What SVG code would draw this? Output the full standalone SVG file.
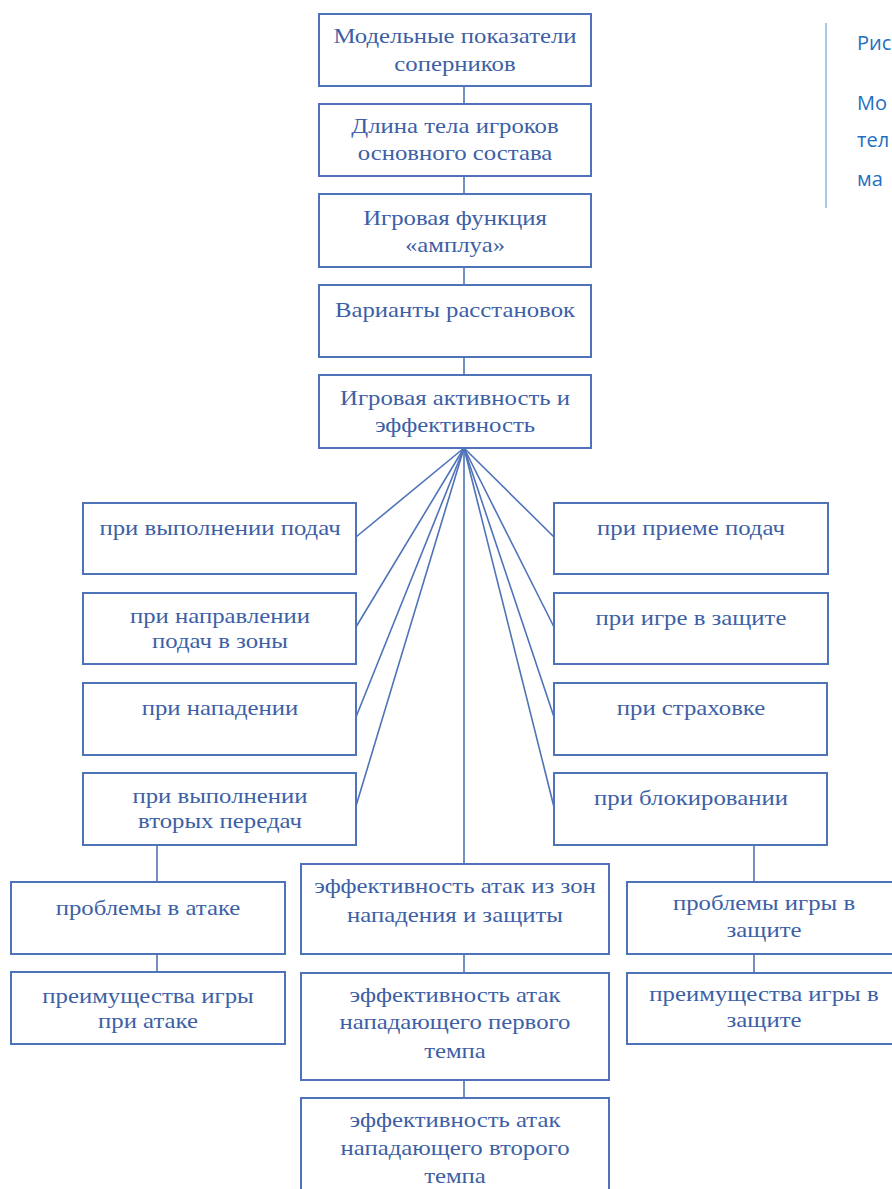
<svg xmlns="http://www.w3.org/2000/svg" width="892" height="1189" viewBox="0 0 892 1189">
  <style>
    .box { fill: #ffffff; stroke: #4f73b8; stroke-width: 2; }
    .lbl { font-family: "Liberation Serif", "Times New Roman", serif; font-size: 21px; fill: #3d5fa6; text-anchor: middle; }
    .wire { stroke: #4f73b8; stroke-width: 1.6; fill: none; }
    .cap { font-family: "Open Sans", "Liberation Sans", sans-serif; font-size: 20px; fill: #1f6fc0; }
  </style>
  <rect width="892" height="1189" fill="#ffffff"/>

  <!-- connectors -->
  <g id="connectors">
    <line class="wire" x1="464" y1="86" x2="464" y2="104"/>
    <line class="wire" x1="464" y1="176" x2="464" y2="194"/>
    <line class="wire" x1="464" y1="267" x2="464" y2="285"/>
    <line class="wire" x1="464" y1="357" x2="464" y2="375"/>
    <!-- fan out from the activity node -->
    <line class="wire" x1="464" y1="448" x2="356" y2="537"/>
    <line class="wire" x1="464" y1="448" x2="356" y2="627"/>
    <line class="wire" x1="464" y1="448" x2="356" y2="717"/>
    <line class="wire" x1="464" y1="448" x2="356" y2="806"/>
    <line class="wire" x1="464" y1="448" x2="554" y2="537"/>
    <line class="wire" x1="464" y1="448" x2="554" y2="627"/>
    <line class="wire" x1="464" y1="448" x2="554" y2="717"/>
    <line class="wire" x1="464" y1="448" x2="554" y2="807"/>
    <line class="wire" x1="464" y1="448" x2="464" y2="864"/>
    <!-- lower chains -->
    <line class="wire" x1="157" y1="845" x2="157" y2="882"/>
    <line class="wire" x1="157" y1="954" x2="157" y2="972"/>
    <line class="wire" x1="464" y1="954" x2="464" y2="973"/>
    <line class="wire" x1="464" y1="1080" x2="464" y2="1098"/>
    <line class="wire" x1="754" y1="845" x2="754" y2="882"/>
    <line class="wire" x1="754" y1="954" x2="754" y2="973"/>
  </g>

  <!-- main chain (labels are widened horizontally with scale) -->
  <g id="n-model">
    <rect class="box" x="319" y="14" width="272" height="72"/>
    <text class="lbl" transform="translate(455 43) scale(1.18 1)">Модельные показатели</text>
    <text class="lbl" transform="translate(455 71) scale(1.18 1)">соперников</text>
  </g>
  <g id="n-height">
    <rect class="box" x="319" y="104" width="272" height="72"/>
    <text class="lbl" transform="translate(455 133) scale(1.18 1)">Длина тела игроков</text>
    <text class="lbl" transform="translate(455 160) scale(1.18 1)">основного состава</text>
  </g>
  <g id="n-role">
    <rect class="box" x="319" y="194" width="272" height="73"/>
    <text class="lbl" transform="translate(455 225) scale(1.18 1)">Игровая функция</text>
    <text class="lbl" transform="translate(455 252) scale(1.18 1)">«амплуа»</text>
  </g>
  <g id="n-lineup">
    <rect class="box" x="319" y="285" width="272" height="72"/>
    <text class="lbl" transform="translate(455 317) scale(1.18 1)">Варианты расстановок</text>
  </g>
  <g id="n-activity">
    <rect class="box" x="319" y="375" width="272" height="73"/>
    <text class="lbl" transform="translate(455 405) scale(1.18 1)">Игровая активность и</text>
    <text class="lbl" transform="translate(455 432) scale(1.18 1)">эффективность</text>
  </g>

  <!-- left branch -->
  <g id="n-serve">
    <rect class="box" x="83" y="503" width="273" height="71"/>
    <text class="lbl" transform="translate(220 535) scale(1.18 1)">при выполнении подач</text>
  </g>
  <g id="n-serve-zones">
    <rect class="box" x="83" y="593" width="273" height="71"/>
    <text class="lbl" transform="translate(220 623) scale(1.18 1)">при направлении</text>
    <text class="lbl" transform="translate(220 648) scale(1.18 1)">подач в зоны</text>
  </g>
  <g id="n-attack">
    <rect class="box" x="83" y="683" width="273" height="72"/>
    <text class="lbl" transform="translate(220 715) scale(1.18 1)">при нападении</text>
  </g>
  <g id="n-setting">
    <rect class="box" x="83" y="773" width="273" height="72"/>
    <text class="lbl" transform="translate(220 803) scale(1.18 1)">при выполнении</text>
    <text class="lbl" transform="translate(220 828) scale(1.18 1)">вторых передач</text>
  </g>

  <!-- right branch -->
  <g id="n-reception">
    <rect class="box" x="554" y="503" width="274" height="71"/>
    <text class="lbl" transform="translate(691 535) scale(1.18 1)">при приеме подач</text>
  </g>
  <g id="n-defence">
    <rect class="box" x="554" y="593" width="274" height="71"/>
    <text class="lbl" transform="translate(691 625) scale(1.18 1)">при игре в защите</text>
  </g>
  <g id="n-cover">
    <rect class="box" x="554" y="683" width="273" height="72"/>
    <text class="lbl" transform="translate(691 715) scale(1.18 1)">при страховке</text>
  </g>
  <g id="n-block">
    <rect class="box" x="554" y="773" width="273" height="72"/>
    <text class="lbl" transform="translate(691 805) scale(1.18 1)">при блокировании</text>
  </g>

  <!-- lower left -->
  <g id="n-attack-problems">
    <rect class="box" x="11" y="882" width="274" height="72"/>
    <text class="lbl" transform="translate(148 915) scale(1.18 1)">проблемы в атаке</text>
  </g>
  <g id="n-attack-advantages">
    <rect class="box" x="11" y="972" width="274" height="72"/>
    <text class="lbl" transform="translate(148 1003) scale(1.18 1)">преимущества игры</text>
    <text class="lbl" transform="translate(148 1028) scale(1.18 1)">при атаке</text>
  </g>

  <!-- lower middle -->
  <g id="n-zone-eff">
    <rect class="box" x="301" y="864" width="308" height="90"/>
    <text class="lbl" transform="translate(455 893) scale(1.18 1)">эффективность атак из зон</text>
    <text class="lbl" transform="translate(455 922) scale(1.18 1)">нападения и защиты</text>
  </g>
  <g id="n-first-tempo">
    <rect class="box" x="301" y="973" width="308" height="107"/>
    <text class="lbl" transform="translate(455 1002) scale(1.18 1)">эффективность атак</text>
    <text class="lbl" transform="translate(455 1029) scale(1.18 1)">нападающего первого</text>
    <text class="lbl" transform="translate(455 1058) scale(1.18 1)">темпа</text>
  </g>
  <g id="n-second-tempo">
    <rect class="box" x="301" y="1098" width="308" height="110"/>
    <text class="lbl" transform="translate(455 1127) scale(1.18 1)">эффективность атак</text>
    <text class="lbl" transform="translate(455 1155) scale(1.18 1)">нападающего второго</text>
    <text class="lbl" transform="translate(455 1183) scale(1.18 1)">темпа</text>
  </g>

  <!-- lower right -->
  <g id="n-defence-problems">
    <rect class="box" x="627" y="882" width="276" height="72"/>
    <text class="lbl" transform="translate(764 910) scale(1.18 1)">проблемы игры в</text>
    <text class="lbl" transform="translate(764 937) scale(1.18 1)">защите</text>
  </g>
  <g id="n-defence-advantages">
    <rect class="box" x="627" y="973" width="276" height="71"/>
    <text class="lbl" transform="translate(764 1001) scale(1.18 1)">преимущества игры в</text>
    <text class="lbl" transform="translate(764 1027) scale(1.18 1)">защите</text>
  </g>

  <!-- caption column -->
  <g id="caption">
    <line x1="826" y1="23" x2="826" y2="208" stroke="#8fb4e0" stroke-width="1.5"/>
    <text class="cap" x="857" y="50">Рис</text>
    <text class="cap" x="857" y="110">Мо</text>
    <text class="cap" x="857" y="147">тел</text>
    <text class="cap" x="857" y="186">ма</text>
  </g>
</svg>
